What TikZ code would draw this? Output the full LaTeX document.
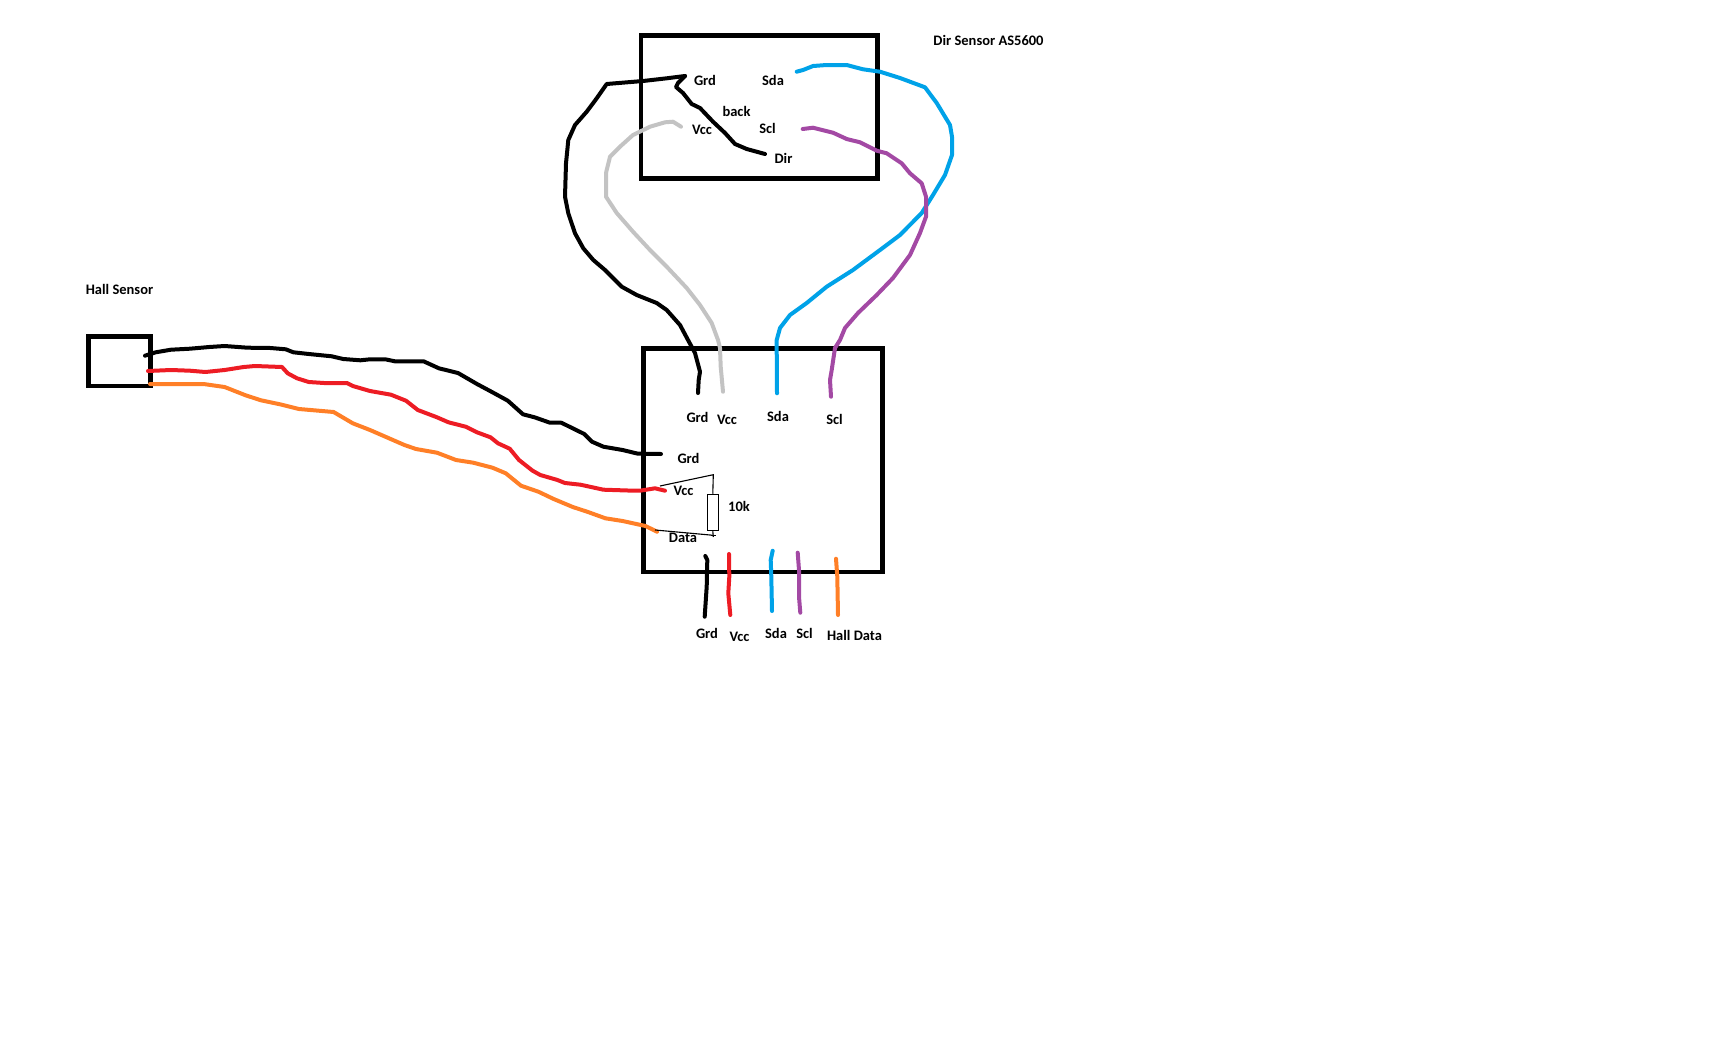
\documentclass[tikz,border=0pt]{standalone}
\usepackage{fontspec}
\setmainfont{Carlito}
\definecolor{wirered}{HTML}{ED1C24}
\definecolor{wireorange}{HTML}{FF7F27}
\definecolor{wireblue}{HTML}{00A2E8}
\definecolor{wirepurple}{HTML}{A349A4}
\definecolor{wiregrey}{HTML}{C3C3C3}
\tikzset{
  board/.style={draw, line width=2.4pt, inner sep=0pt},
  wire/.style={line width=2pt, line join=round, line cap=round},
  thinwire/.style={line width=0.55pt},
  lbl/.style={font=\fontsize{7.25}{9}\selectfont\bfseries, inner sep=0pt}
}

\begin{document}
\begin{tikzpicture}[x=0.5pt, y=-0.5pt]
            \useasboundingbox (0,0) rectangle (1736,1050);

            % Boxes
            \node[board, minimum width=118.3pt, minimum height=71.5pt] (dirbox) at (759.2,107) {};
            \node[board, minimum width=119.6pt, minimum height=111.8pt] (mainbox) at (762.9,460.2) {};
            \node[board, minimum width=31pt, minimum height=24.85pt] (hallbox) at (119.3,361.2) {};
            \node[draw, thinwire, inner sep=0pt, minimum width=5.5pt, minimum height=18pt] (res) at (712.8,512.3) {};

            % Labels
            \node[lbl] (titledir) at (988.5,40.5) {Dir Sensor AS5600};
            \node[lbl] (titlehall) at (119.5,289.5) {Hall Sensor};
            \node[lbl] (dirgrd) at (705,80.5) {Grd};
            \node[lbl] (dirsda) at (773,80.5) {Sda};
            \node[lbl] (dirback) at (736.5,111.5) {back};
            \node[lbl] (dirvcc) at (702,129.5) {Vcc};
            \node[lbl] (dirscl) at (767.5,128.5) {Scl};
            \node[lbl] (dirdir) at (783.5,158.5) {Dir};
            \node[lbl] (maingrdtop) at (697.5,417) {Grd};
            \node[lbl] (mainvcctop) at (727,420) {Vcc};
            \node[lbl] (mainsdatop) at (778,416.5) {Sda};
            \node[lbl] (mainscltop) at (834.5,419) {Scl};
            \node[lbl] (maingrd) at (688.5,458) {Grd};
            \node[lbl] (mainvcc) at (683.5,491) {Vcc};
            \node[lbl] (mainres) at (739,506.5) {10k};
            \node[lbl] (maindata) at (683,538) {Data};
            \node[lbl] (outgrd) at (707,633.5) {Grd};
            \node[lbl] (outvcc) at (739.5,637) {Vcc};
            \node[lbl] (outsda) at (776,633) {Sda};
            \node[lbl] (outscl) at (804.5,633) {Scl};
            \node[lbl] (outhall) at (854.5,635) {Hall Data};

            % Wire ends
            \coordinate (a1) at (685,76);
            \coordinate (a2) at (698,393);
            \coordinate (b1) at (676,87);
            \coordinate (b2) at (765,154);
            \coordinate (c1) at (681,126.7);
            \coordinate (c2) at (723,391.7);
            \coordinate (d1) at (796.7,71.7);
            \coordinate (d2) at (777,393.3);
            \coordinate (e1) at (802.7,129);
            \coordinate (e2) at (831,396.7);
            \coordinate (f1) at (145,355.7);
            \coordinate (f2) at (661,454);
            \coordinate (g1) at (148,371);
            \coordinate (g2) at (665,490.7);
            \coordinate (h1) at (150,384);
            \coordinate (h2) at (657,531.7);
            \coordinate (t1) at (660,486);
            \coordinate (t2) at (713.3,474.7);
            \coordinate (t3) at (713.3,535.3);
            \coordinate (t4) at (655,530);

            % Sensor wires
            \draw[wire, black] (a1) -- (666.7,78.3) -- (643,81) -- (606.7,84) -- (596.7,98.3) -- (586.7,111.7)
              -- (575,125) -- (568.3,140) -- (566,163.3) -- (565,196.7) -- (568.3,213.3) -- (575,233.3)
              -- (583.3,248.3) -- (593.3,260) -- (605,270) -- (621.7,286.7) -- (636.7,295) -- (656.7,303)
              -- (666.7,310) -- (680,325) -- (688,340) -- (695,353) -- (700,371.7) -- (698.7,380) -- (a2);
            \draw[wire, black] (a1) -- (678,83) -- (b1) -- (683,93) -- (691.7,104) -- (700,108) -- (713,121.7)
              -- (725,133) -- (735,144) -- (746.7,149) -- (b2);
            \draw[wire, wiregrey] (c1) -- (673,121.7) -- (665,122.3) -- (650,126.7) -- (633,135) -- (620,146.7)
              -- (610,156.7) -- (606,173) -- (606,196.7) -- (616.7,213) -- (633,231.7) -- (650,250)
              -- (666.7,266.7) -- (686.7,288) -- (700,305) -- (711.7,323) -- (718,340) -- (720,348)
              -- (720.7,366.7) -- (c2);
            \draw[wire, wireblue] (d1) -- (803,70) -- (813,66) -- (826.7,65) -- (846.7,65) -- (863,69.3)
              -- (880,71.7) -- (900,78) -- (925,87.3) -- (936.7,103) -- (950,125) -- (952,136.7) -- (952,155)
              -- (945,175) -- (933,195) -- (921.7,213) -- (900,235) -- (880,250) -- (853,270) -- (826.7,286.7)
              -- (806.7,303) -- (790,315) -- (780,328) -- (776.7,340) -- (776.7,348) -- (d2);
            \draw[wire, wirepurple] (e1) -- (813,127.7) -- (833,132.7) -- (846.7,139) -- (860,142.3)
              -- (876.7,150.7) -- (886.7,153.3) -- (901.7,163.3) -- (910,173.3) -- (921.7,183.3) -- (926,196.7)
              -- (926,216.7) -- (920,233) -- (910,255) -- (893,278) -- (876.7,295) -- (858,313) -- (845,328)
              -- (840,340) -- (835,348) -- (831.7,370) -- (830,380) -- (e2);

            % Hall wires
            \draw[wire, black] (f1) -- (155.7,352.3) -- (171,349.7) -- (190,348.7) -- (209.3,347) -- (224.6,346)
              -- (247.5,347.7) -- (270.5,348) -- (285.8,349.3) -- (293.4,352.3) -- (308.8,354) -- (331.7,356.3)
              -- (343.2,359) -- (360.4,360.3) -- (370,359.3) -- (385.3,359.3) -- (394.9,361.3) -- (423.6,361.3)
              -- (438.9,368.3) -- (458,373) -- (477,384) -- (492.5,392.3) -- (507.8,400.7) -- (523,414.3)
              -- (534.6,417.3) -- (549.9,422.7) -- (561.3,422.7) -- (584.3,434) -- (592,441.7) -- (603.4,446.7)
              -- (622.6,450) -- (637.9,453.7) -- (f2);
            \draw[wire, wirered] (g1) -- (171,370) -- (190,370.7) -- (205.4,372) -- (224.6,370) -- (243.7,367)
              -- (255,366) -- (282,367) -- (287.7,373.3) -- (297,378.3) -- (308.8,382) -- (324,383) -- (347,383)
              -- (352.8,386) -- (370,391) -- (391,394.7) -- (406,400.7) -- (417.8,410) -- (437,417.3)
              -- (448.5,422.3) -- (465.7,426.7) -- (477,432.3) -- (490.5,437.3) -- (498,443.3) -- (509.7,448.7)
              -- (519,460) -- (532.6,470.7) -- (540.3,475) -- (557.5,480) -- (565,483) -- (580.5,484.7)
              -- (603.4,489.7) -- (634,490.7) -- (640,490.7) -- (655,488.3) -- (g2);
            \draw[wire, wireorange] (h1) -- (203.5,384) -- (224.6,387) -- (245.6,395.3) -- (261,400.3) -- (280,404.3)
              -- (299,409) -- (333.6,412) -- (352.8,423.3) -- (370,430) -- (404.4,445) -- (416,449) -- (437,452.7)
              -- (456,460) -- (473.3,462.7) -- (492.5,467.7) -- (505.8,473.3) -- (521,485.7) -- (538.4,491.7)
              -- (553.7,499) -- (572.8,507) -- (588,512) -- (605.4,518.3) -- (622.6,521) -- (645.5,526) -- (h2);

            % Pull-up
            \draw[thinwire] (t1) -- (t2) -- (res.north);
            \draw[thinwire] (res.south) -- (713.3,537);
            \draw[thinwire] (t4) -- (t3);
            \draw[thinwire] (711,535.5) -- (715.5,535.5);

            % Outputs
            \draw[wire, black] (705.3,556) -- (707.3,560) -- (706.7,586.7) -- (704.7,616.7);
            \draw[wire, wirered] (729,554) -- (729.3,576.7) -- (728.3,593.3) -- (730.3,615);
            \draw[wire, wireblue] (772.7,550.7) -- (770.7,560) -- (771.3,576.7) -- (772,611);
            \draw[wire, wirepurple] (797.7,552.7) -- (799,570) -- (799,596.7) -- (800.3,612.7);
            \draw[wire, wireorange] (836,558.7) -- (837.3,576.7) -- (838,615);

\end{tikzpicture}
\end{document}
